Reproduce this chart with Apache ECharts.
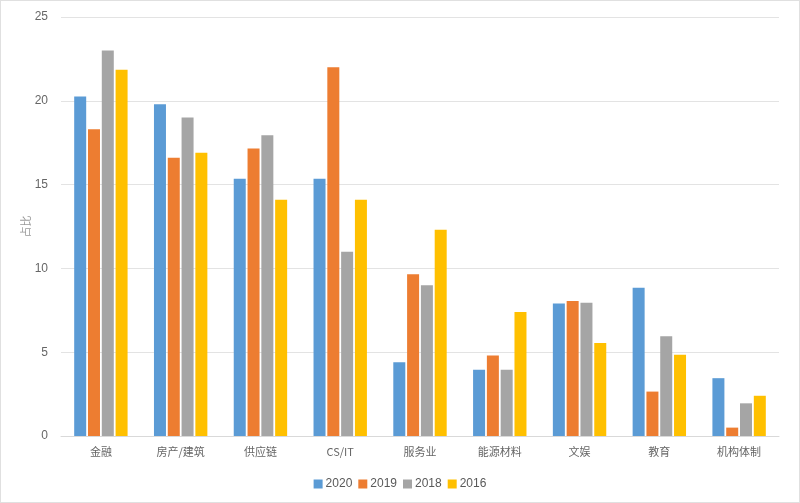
<!DOCTYPE html>
<html><head><meta charset="utf-8">
<script src="https://cdn.jsdelivr.net/npm/echarts@6/dist/echarts.min.js"></script>
<style>html,body{margin:0;padding:0;background:#fff}#c{width:800px;height:503px;box-sizing:border-box;border:1px solid #e0e0e0}</style>
</head><body><div id="c"></div>
<script>
const categories = ['金融','房产/建筑','供应链','CS/IT','服务业','能源材料','文娱','教育','机构体制'];
const s2020 = [20.25, 19.8, 15.35, 15.35, 4.4, 3.95, 7.9, 8.85, 3.45];
const s2019 = [18.3, 16.6, 17.15, 22.0, 9.65, 4.8, 8.05, 2.65, 0.5];
const s2018 = [23.0, 19.0, 17.95, 11.0, 9.0, 3.95, 7.95, 5.95, 1.95];
const s2016 = [21.85, 16.9, 14.1, 14.1, 12.3, 7.4, 5.55, 4.85, 2.4];
const yTicks = [0, 5, 10, 15, 20, 25];
const seriesNames = ['2020','2019','2018','2016'];
const colors = ['#5B9BD5','#ED7D31','#A5A5A5','#FFC000'];
const data = [s2020, s2019, s2018, s2016];
const chart = echarts.init(document.getElementById('c'));
chart.setOption({
  animation: false,
  textStyle: {fontFamily: 'Noto Sans CJK SC, Liberation Sans, sans-serif'},
  grid: {left: 60, right: 20, top: 16, bottom: 66, containLabel: false},
  legend: {
    bottom: 7, left: 'center', itemWidth: 9, itemHeight: 9, itemGap: 6,
    icon: 'rect',
    textStyle: {color: '#595959', fontSize: 12, fontFamily: 'Liberation Sans, sans-serif', padding: [0,0,0,-2]},
    data: seriesNames
  },
  xAxis: {
    type: 'category', data: categories,
    axisLine: {lineStyle: {color: '#d9d9d9', width: 1}},
    axisTick: {show: false},
    axisLabel: {color: '#666', fontSize: 11, margin: 10}
  },
  yAxis: {
    type: 'value', min: yTicks[0], max: yTicks[yTicks.length-1], interval: 5,
    name: '占比', nameLocation: 'middle', nameGap: 30, nameRotate: 90,
    nameMoveOverlap: false,
    nameTextStyle: {color: '#999', fontSize: 11},
    axisLine: {show: false}, axisTick: {show: false},
    axisLabel: {color: '#666', fontSize: 12, margin: 13, fontFamily: 'Liberation Sans, sans-serif'},
    splitLine: {lineStyle: {color: '#e3e3e3', width: 1}}
  },
  series: seriesNames.map((n, i) => ({
    name: n, type: 'bar', data: data[i], barWidth: 12, barGap: '15%',
    itemStyle: {color: colors[i]}
  }))
});
</script></body></html>
